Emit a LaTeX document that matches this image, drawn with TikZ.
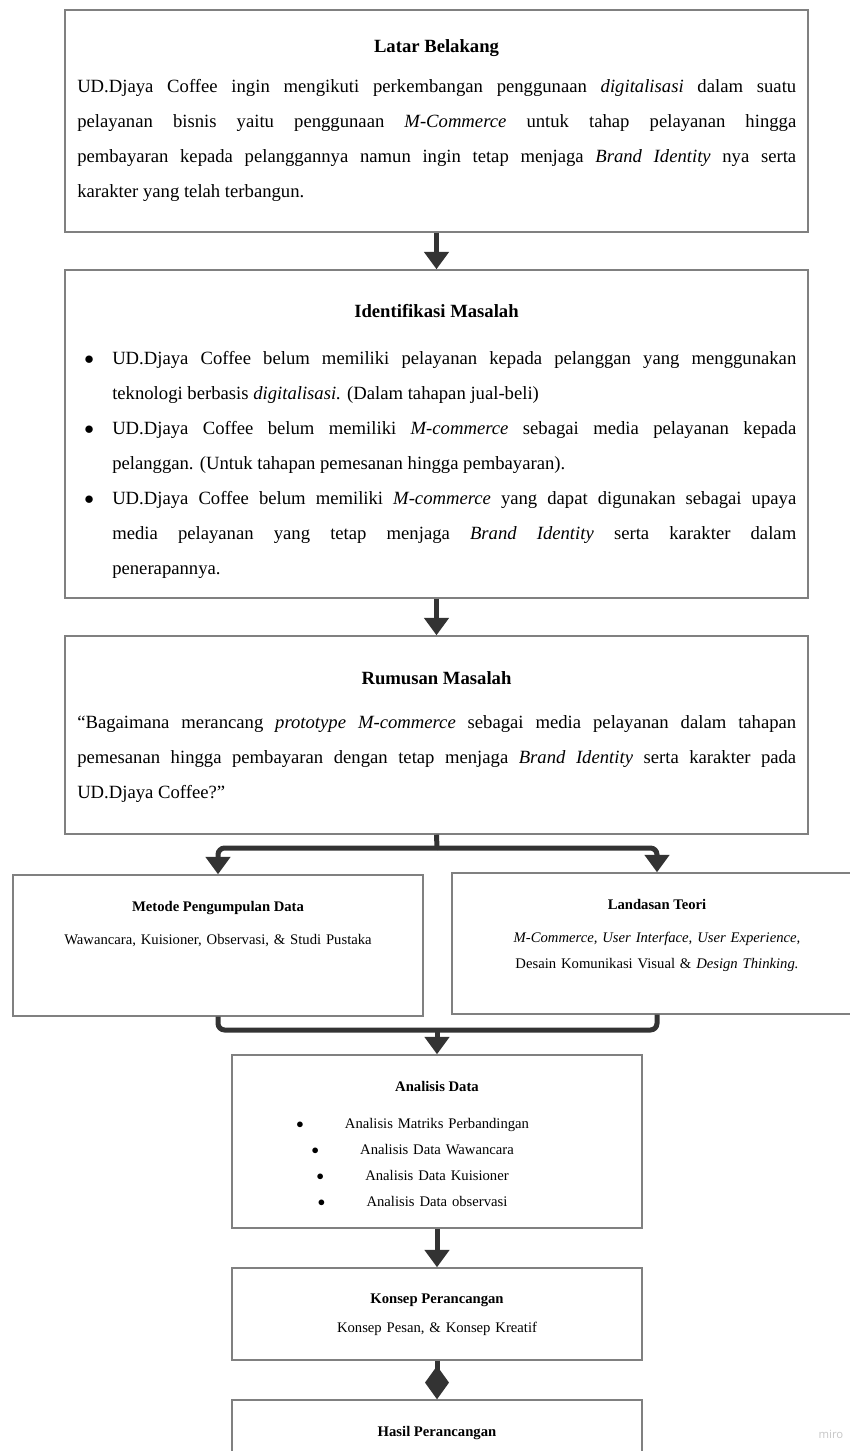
\documentclass[tikz,border=0pt]{standalone}
\usepackage{fontspec}
\setmainfont{Liberation Serif}
\newfontfamily\mirofont{Open Sans}
\usetikzlibrary{arrows.meta}
\definecolor{garisabu}{RGB}{128,128,128}
\definecolor{panahabu}{RGB}{51,51,51}
\hbadness=10000
\newcommand{\butir}{\noindent\hangindent=21pt\hangafter=1\makebox[21pt][l]{$\bullet$}}
\newcommand{\titik}{\leavevmode\llap{$\bullet$\hspace{31pt}}}

\begin{document}
\begin{tikzpicture}[x=0.75pt, y=-0.75pt,
    kotak/.style={draw=garisabu, line width=1.1pt, inner sep=0pt},
    judul/.style={anchor=base, inner sep=0pt, font=\bfseries\fontsize{14pt}{17pt}\selectfont},
    isi/.style={anchor=base west, inner sep=0pt, align=justify, font=\fontsize{14pt}{26.25pt}\selectfont},
    judulkecil/.style={anchor=base, inner sep=0pt, font=\bfseries\fontsize{11pt}{13pt}\selectfont},
    isikecil/.style={anchor=base, inner sep=0pt, text width=300pt, align=center, font=\fontsize{11pt}{19.6pt}\selectfont},
    garis/.style={draw=panahabu, line width=3.75pt},
    panah/.style={garis, -{Triangle[length=13pt,width=18pt]}},
    belah/.style={garis, -{Diamond[length=25pt,width=18pt]}}]
    \useasboundingbox (0,0) rectangle (849,1451);
    \node[kotak, minimum width=557.25pt, minimum height=166.5pt] (latar) at (436.5,121) {};
    \node[kotak, minimum width=557.25pt, minimum height=246pt] (identifikasi) at (436.5,434) {};
    \node[kotak, minimum width=557.25pt, minimum height=148.5pt] (rumusan) at (436.5,735) {};
    \node[kotak, minimum width=307.5pt, minimum height=105.75pt] (metode) at (218,945.5) {};
    \node[kotak, minimum width=307.5pt, minimum height=105.75pt] (landasan) at (657,943.5) {};
    \node[kotak, minimum width=307.5pt, minimum height=129.75pt] (analisis) at (437,1141.5) {};
    \node[kotak, minimum width=307.5pt, minimum height=69pt] (konsep) at (437,1314) {};
    \node[kotak, minimum width=307.5pt, minimum height=75pt] (hasil) at (437,1450) {};

    \node[judul] (latarjudul) at (436.5,53) {Latar Belakang};
    \node[isi, text width=539.25pt] (latarisi) at (77,93) {UD.Djaya Coffee ingin mengikuti perkembangan penggunaan \textit{digitalisasi} dalam suatu\linebreak pelayanan bisnis yaitu penggunaan \textit{M-Commerce} untuk tahap pelayanan hingga\linebreak pembayaran kepada pelanggannya namun ingin tetap menjaga \textit{Brand Identity} nya serta\linebreak karakter yang telah terbangun.};
    \node[judul] (identjudul) at (436.5,317) {Identifikasi Masalah};
    \node[isi, text width=534pt] (identisi) at (84,364) {\butir UD.Djaya Coffee belum memiliki pelayanan kepada pelanggan yang menggunakan\linebreak teknologi berbasis \textit{digitalisasi.} (Dalam tahapan jual-beli)\par
      \butir UD.Djaya Coffee belum memiliki \textit{M-commerce} sebagai media pelayanan kepada\linebreak pelanggan. (Untuk tahapan pemesanan hingga pembayaran).\par
      \butir UD.Djaya Coffee belum memiliki \textit{M-commerce} yang dapat digunakan sebagai upaya\linebreak media pelayanan yang tetap menjaga \textit{Brand Identity} serta karakter dalam\linebreak penerapannya.\par};
    \node[judul] (rumusanjudul) at (436.5,684) {Rumusan Masalah};
    \node[isi, text width=539.25pt] (rumusanisi) at (77,728) {“Bagaimana merancang \textit{prototype M-commerce} sebagai media pelayanan dalam tahapan\linebreak pemesanan hingga pembayaran dengan tetap menjaga \textit{Brand Identity} serta karakter pada\linebreak UD.Djaya Coffee?”};

    \node[judulkecil] (metodejudul) at (218,911) {Metode Pengumpulan Data};
    \node[isikecil] (metodeisi) at (218,944) {Wawancara, Kuisioner, Observasi, \& Studi Pustaka};
    \node[judulkecil] (landasanjudul) at (657,909) {Landasan Teori};
    \node[isikecil] (landasanisi) at (657,942) {\textit{M-Commerce, User Interface, User Experience,}\\ Desain Komunikasi Visual \& \textit{Design Thinking.}};
    \node[judulkecil] (analisisjudul) at (437,1091) {Analisis Data};
    \node[isikecil] (analisisisi) at (437,1128) {\titik Analisis Matriks Perbandingan\\
      \titik Analisis Data Wawancara\\
      \titik Analisis Data Kuisioner\\
      \titik Analisis Data observasi};
    \node[judulkecil] (konsepjudul) at (437,1303) {Konsep Perancangan};
    \node[isikecil] (konsepisi) at (437,1332) {Konsep Pesan, \& Konsep Kreatif};
    \node[judulkecil] (hasiljudul) at (437,1436) {Hasil Perancangan};
    \node[anchor=base, inner sep=0pt, text=gray!45, font=\mirofont\fontsize{8.5pt}{10pt}\selectfont] (miro) at (831,1438) {miro};

    \coordinate (cabang) at (437,848);
    \coordinate (gabung) at (437,1030);
    \draw[panah] (latar.south) -- (identifikasi.north);
    \draw[panah] (identifikasi.south) -- (rumusan.north);
    \draw[garis] (rumusan.south) -- (cabang);
    \draw[panah, rounded corners=5pt] (cabang) -| (metode.north);
    \draw[panah, rounded corners=5pt] (cabang) -| (landasan.north);
    \draw[garis, rounded corners=5pt] (metode.south) |- (gabung) -| (landasan.south);
    \draw[panah] (gabung) -- (analisis.north);
    \draw[panah] (analisis.south) -- (konsep.north);
    \draw[belah] (konsep.south) -- (hasil.north);
\end{tikzpicture}
\end{document}
